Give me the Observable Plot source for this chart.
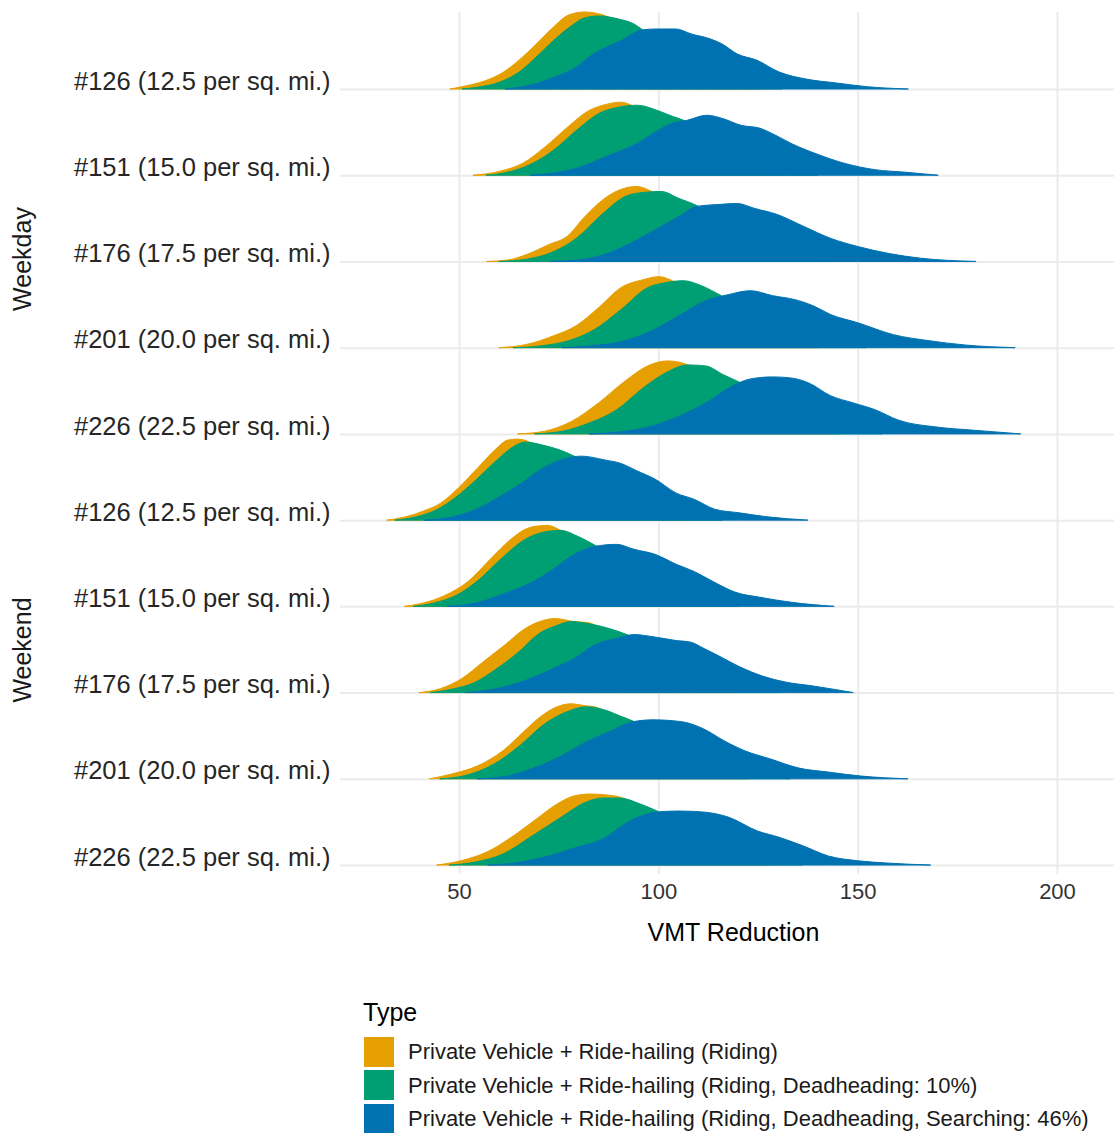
<!DOCTYPE html>
<html><head><meta charset="utf-8">
<script src="https://cdn.jsdelivr.net/npm/d3@7"></script>
<script src="https://cdn.jsdelivr.net/npm/@observablehq/plot@0.6"></script>
<style>
body{margin:0;background:#fff;font-family:"Liberation Sans",Arial,Helvetica,sans-serif;}
#wrap{position:relative;width:1114px;height:1133px;overflow:hidden;background:#fff;}
#chart{position:absolute;left:0;top:0;}
.strip{position:absolute;font-size:25px;line-height:25px;color:#1a1a1a;white-space:nowrap;transform:translate(-50%,-50%) rotate(-90deg);}
.lgtitle{position:absolute;left:363px;top:1000px;font-size:25px;line-height:25px;color:#000;}
.sw{position:absolute;left:364px;width:30px;height:29.5px;}
.lgtext{position:absolute;left:408px;font-size:22px;line-height:22px;color:#1a1a1a;white-space:nowrap;}
</style></head><body><div id="wrap"><div id="chart"></div></div>
<script>
// ---- data ----
const types = [
  "Private Vehicle + Ride-hailing (Riding)",
  "Private Vehicle + Ride-hailing (Riding, Deadheading: 10%)",
  "Private Vehicle + Ride-hailing (Riding, Deadheading, Searching: 46%)"
];
const palette = ["#E69F00", "#009E73", "#0072B2"];
const dayGroups = ["Weekday", "Weekend"];
const ridgeLabels = [
  "#126 (12.5 per sq. mi.)", "#151 (15.0 per sq. mi.)", "#176 (17.5 per sq. mi.)",
  "#201 (20.0 per sq. mi.)", "#226 (22.5 per sq. mi.)",
  "#126 (12.5 per sq. mi.)", "#151 (15.0 per sq. mi.)", "#176 (17.5 per sq. mi.)",
  "#201 (20.0 per sq. mi.)", "#226 (22.5 per sq. mi.)"
];
const xTicks = [50, 100, 150, 200];

// density profiles [VMT reduction, scaled density], one per ridge (top to bottom)
const riding = [
  [[47.8,0],[51.6,3],[56.4,8],[61.2,17],[65.1,29],[69.9,47],[73.7,62],[77.5,74],[81.4,77],[86.2,74],[90,66],[95,52],[100,38],[105,26],[110,15],[115,8],[120,4],[126,0]],
  [[53.6,0],[60.3,4],[66,12],[71.8,29],[77.5,49],[82.3,64],[87.1,71],[90.5,73],[93.9,69],[98,60],[103,45],[108,31],[113,19],[118,10],[124,4],[130,0]],
  [[57,0],[62.6,1.7],[67,7],[72.6,17],[77.1,25],[81.6,45],[87.2,65],[90.6,72],[94.5,75],[97.3,72],[101,63],[106,48],[111,33],[116,20],[121,11],[127,4],[133,0]],
  [[60.1,0],[67,3.3],[73.8,12],[79.4,22],[85,40],[90.6,60],[96.2,68],[100.1,71],[103.5,67],[108,55],[113,40],[118,26],[123,15],[129,7],[135,2],[140,0]],
  [[64.8,0],[71.5,2.7],[78.3,12.7],[85,31],[91.7,53],[97.3,68],[102.4,73],[106.8,70],[111,62],[116,48],[121,34],[126,21],[132,11],[138,4],[145,0]],
  [[32,0],[36.6,3.3],[41,9],[45.4,17],[49.8,32],[55.1,54],[59.5,72],[62.2,80],[64.8,81],[68.3,77],[72,68],[76,56],[80,43],[85,30],[90,18],[95,10],[101,4],[108,0]],
  [[36.4,0],[41,3.3],[46.3,10.6],[52.5,25.6],[57.8,47],[63,67],[66.6,77],[69.2,80],[72.3,81],[75,77],[79,68],[84,53],[89,38],[94,25],[100,13],[106,6],[113,0]],
  [[40.1,0],[45.4,4],[50.7,14],[56,30.5],[61.3,47],[66.6,64],[71,72],[74.1,74],[78.9,71],[82.4,70],[86,63],[91,50],[96,36],[101,24],[107,13],[113,6],[120,0]],
  [[42.7,0],[48.4,5],[54.7,13],[61,28],[66.2,47],[70.4,62],[74.6,72],[78,75],[81.9,73],[84,72],[88,64],[93,50],[98,36],[103,24],[109,13],[115,6],[122,0]],
  [[44.5,0],[50.5,4.3],[56.8,12.7],[63.1,27.7],[69.4,46],[74.6,61],[78.8,69],[83,71],[87.2,70],[90.3,68],[94,61],[99,49],[104,36],[109,24],[115,13],[121,6],[128,0]]
];
const deadheading = [
  [[50.9,0],[54.5,1.7],[60.3,7],[65.1,17],[69.9,34],[74.7,52],[78.5,64],[81.4,71],[85.2,73],[90,70],[93.9,65],[95.8,60],[100,50],[105,38],[110,26],[115,16],[120,9],[125,4],[131,0]],
  [[56.9,0],[62.2,3],[68,11],[73.7,25],[79.5,45],[85.2,62],[90,68],[94.8,70],[99.6,65],[103.5,59],[106.3,55],[110,46],[115,33],[120,21],[126,11],[132,5],[140,0]],
  [[60.1,0],[67,2.3],[72.6,8],[79.4,23],[86.1,48],[91.7,65],[96.2,69],[100.7,70],[105.2,63],[109.6,56],[114,46],[119,33],[124,21],[130,11],[136,5],[143,0]],
  [[63.7,0],[70.4,1.7],[78.3,8],[83.9,18],[90.6,38],[97.3,60],[101.8,65],[106.3,67],[110.8,62],[115.8,52],[120,43],[125,31],[131,19],[137,10],[144,4],[152,0]],
  [[69.1,0],[76,2.7],[82.7,11],[89.5,24],[96.2,46],[101.8,61],[107.4,69],[111.9,68],[116.4,59],[119.7,53],[124,44],[129,33],[135,21],[141,11],[148,4],[156,0]],
  [[34,0],[39.3,3.3],[44.5,10.6],[48.9,22],[54.2,40],[59.5,60],[63.9,74],[66.6,78],[71,75],[75.4,70],[78.9,64],[83,55],[88,42],[93,30],[98,19],[104,10],[110,4],[116,0]],
  [[38.6,0],[43.7,3.3],[49.8,12],[55.1,27],[60.4,47],[66.6,67],[71,74],[75.4,76],[79.8,70],[84.6,60],[89,50],[94,37],[100,23],[106,12],[113,5],[120,0]],
  [[42.8,0],[48.1,3.3],[54.2,10.6],[59.5,24],[64.8,40],[70.1,59],[74.5,67],[78,71],[82.4,69],[87.7,64],[92.1,58],[96,51],[101,40],[106,29],[112,17],[118,9],[125,3],[131,0]],
  [[45.3,0],[51.6,3.3],[58.9,15],[65.2,33],[71.5,55],[77.7,68],[81.9,72],[87.2,68],[90.3,63],[93.5,58],[98,48],[103,36],[108,25],[114,14],[120,7],[127,2],[133,0]],
  [[47.6,0],[53.7,2.7],[61,11],[68.3,29],[75.7,48],[81.9,63],[86.1,67],[90.3,67],[95.5,61],[100.3,53],[105,45],[110,35],[116,23],[122,13],[129,6],[136,0]]
];
const searching = [
  [[61.7,0],[68,4],[73.7,11.6],[79.5,22],[83.3,34],[87.1,42],[91,49],[95.8,59],[99.6,60],[104.4,60],[108.3,55],[113.1,50],[116,45],[119.8,35],[124.6,29],[130.3,17],[137,10],[144.7,6],[152.4,2.3],[162.7,0]],
  [[67.9,0],[73.7,2.3],[79.5,7],[87.1,19],[94.8,32],[99.6,44],[103.5,52],[107.3,55],[112.1,60],[115.9,57],[120.7,50],[125.5,47],[129.4,40],[133.2,32],[139.9,21],[146.6,12],[154.3,5.6],[162,3],[170.2,0]],
  [[72.9,0],[80.5,1.7],[87.2,8],[93.9,20],[100.7,35],[105.2,45],[109.6,55],[115.2,57],[119.7,58],[124.2,53],[129.8,47],[136.5,35],[143.3,23],[150,15],[157.8,8],[165.7,3.3],[179.7,0]],
  [[76,0],[82.7,1.7],[91.7,7],[98.4,17],[105.2,32],[111.9,47],[117.5,53],[123.1,57],[128.7,52],[134.3,48],[138.8,42],[143.3,33],[150,25],[159,13],[167.9,7],[176.9,2.7],[189.5,0]],
  [[82.7,0],[89.5,1.7],[98.4,7.7],[105.2,17.7],[111.9,31],[118.6,48],[123.1,55],[128.7,57],[133.2,56],[137.7,51],[143.3,38],[148.9,31],[154.5,24],[160.1,14],[170.2,6.7],[179.1,3.7],[190.9,0]],
  [[41.5,0],[47.2,2.3],[54.2,10.6],[60.4,24],[65.7,37],[71,52],[75.4,60],[80.7,64],[86.8,60],[90.4,57],[94.8,49],[99.2,41],[104.5,27],[108.9,21],[114.1,11],[120.3,7.3],[127.4,3.3],[137.5,0]],
  [[47.2,0],[54.2,3.3],[62.2,14],[68.3,24],[73.6,37],[78.9,52],[84.2,60],[89.5,62],[93.9,57],[99.2,52],[104.5,42],[108.9,35],[114.1,24],[119.4,14],[125.6,9],[133.5,4],[144.1,0]],
  [[51.6,0],[58.6,3.3],[66.6,12],[73.6,24],[78.9,34],[84.2,48],[89.5,54],[93.9,58],[99.2,55.5],[104.5,52],[108,50.5],[111.5,44],[115,37],[120.3,26],[126.5,16],[131.8,10.6],[138.8,6.6],[148.9,0]],
  [[54.7,0],[62,2.7],[68.3,10],[75.7,23],[82,37],[88.2,48],[93.5,57],[98.7,59],[106,57],[111.3,50],[116.5,38],[121.7,28],[128,20],[135.3,10.7],[142.7,6.7],[151,2.7],[162.6,0]],
  [[57.3,0],[65.2,2.7],[72.5,9],[79.8,18],[86.1,26],[92.4,43],[99.7,53],[105,54],[111.3,53],[117.5,48],[124.9,34],[130.1,28],[136.4,19],[142.7,9],[150,4.3],[157.3,2],[168.3,0]]
];

// ---- build table ----
const ridgeScale = 86.22; // density units per ridge spacing
const nR = ridgeLabels.length;
const series = [riding, deadheading, searching];
const table = [];
ridgeLabels.forEach((lab, r) => {
  const base = nR - 1 - r;
  series.forEach((s, t) => {
    s[r].forEach(([x, h]) => table.push({key: r + "-" + t, type: types[t], x, y1: base, y2: base + h / ridgeScale}));
  });
});
const baselines = d3.range(nR);

const chart = Plot.plot({
  width: 1114, height: 960,
  marginLeft: 340, marginRight: 0, marginTop: 12, marginBottom: 86,
  style: {fontFamily: "'Liberation Sans', Arial, sans-serif", background: "white"},
  x: {domain: [20.15, 214.3]},
  y: {domain: [-0.104, 9.893]},
  color: {domain: types, range: palette},
  marks: [
    Plot.gridX(xTicks, {stroke: "#ebebeb", strokeOpacity: 1, strokeWidth: 2}),
    Plot.ruleY(baselines, {stroke: "#ebebeb", strokeWidth: 2}),
    Plot.areaY(table, {x: "x", y1: "y1", y2: "y2", z: "key", fill: "type", stroke: "type", strokeWidth: 1, curve: "monotone-x"}),
    Plot.axisX(xTicks, {tickSize: 0, tickPadding: 9, fontSize: 22, color: "#333", label: null}),
    Plot.axisY(baselines, {tickSize: 0, tickPadding: 10, fontSize: 25.5, color: "#262626", dy: -8, tickFormat: v => ridgeLabels[nR - 1 - v], label: null}),
    Plot.text(["VMT Reduction"], {text: d => d, frameAnchor: "bottom", dy: 66, dx: 6, fontSize: 25, fill: "#000"})
  ]
});
const wrap = document.getElementById("wrap");
document.getElementById("chart").appendChild(chart);

// strip labels
const stripPos = [[21.5, 258.5], [21.5, 650]];
dayGroups.forEach((g, i) => {
  const d = document.createElement("div");
  d.className = "strip";
  d.textContent = g;
  d.style.left = stripPos[i][0] + "px";
  d.style.top = stripPos[i][1] + "px";
  wrap.appendChild(d);
});

// legend
const lt = document.createElement("div");
lt.className = "lgtitle"; lt.textContent = "Type"; wrap.appendChild(lt);
types.forEach((t, i) => {
  const sw = document.createElement("div");
  sw.className = "sw"; sw.style.top = (1037 + 33.3 * i) + "px"; sw.style.background = palette[i];
  wrap.appendChild(sw);
  const tx = document.createElement("div");
  tx.className = "lgtext"; tx.style.top = (1041.4 + 33.3 * i) + "px"; tx.textContent = t;
  wrap.appendChild(tx);
});
</script></body></html>
